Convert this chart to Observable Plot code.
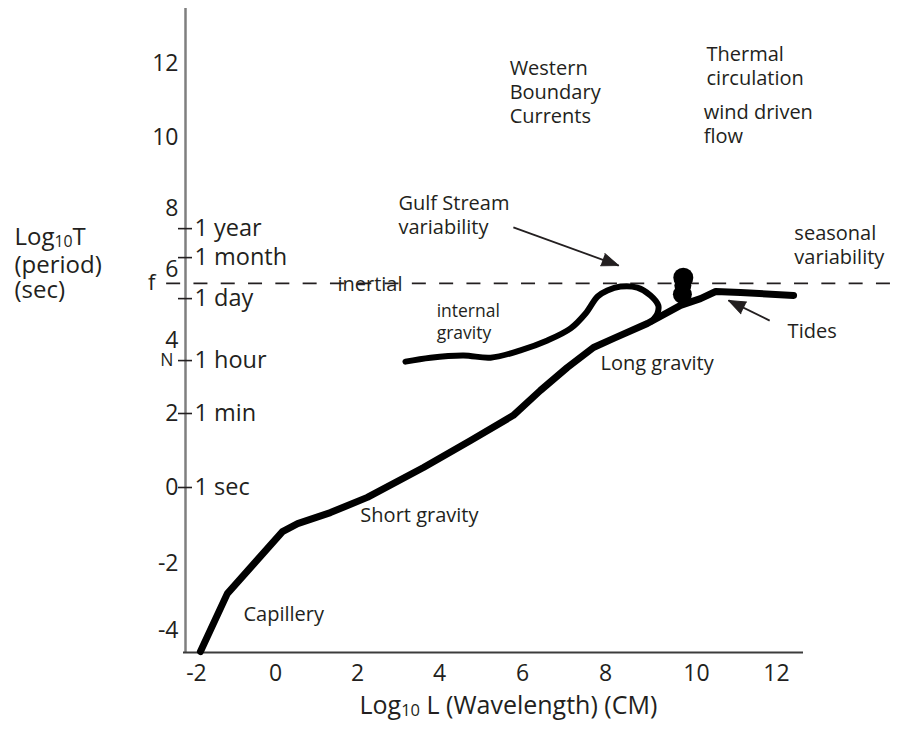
<!DOCTYPE html>
<html>
<head>
<meta charset="utf-8">
<script src="https://cdn.jsdelivr.net/npm/d3@7"></script>
<script src="https://cdn.jsdelivr.net/npm/@observablehq/plot@0.6"></script>
<style>
html, body { margin: 0; padding: 0; background: #fff; }
</style>
</head>
<body>
<div id="chart"></div>
<script>
// ---------------- data (x = log10 L in cm, y = log10 T in s) ----------------
const xTicks = [-2, 0, 2, 4, 6, 8, 10, 12];
const yTicks = [-4, -2, 0, 2, 4, 6, 8, 10, 12];

// the hand-drawn axes are not evenly spaced: calibration values and where they sit
const xCalValues = [-2.28, -2, 0, 2, 4, 6, 8, 10, 12, 12.68];
const xCalRange  = [185, 196, 275, 357, 439, 522, 605, 696, 776, 803];
const yCalValues = [-4.66, -4, -2, 0, 2, 4, 6, 8, 10, 12, 13.49];
const yCalRange  = [652, 630, 563, 487, 413, 340, 269, 208, 137, 63, 8];

// main dispersion curve: capillary -> short gravity -> long gravity -> tides
const mainL = [-1.90, -1.22, 0.17, 0.54, 1.34, 2.24, 3.61, 4.75, 5.78, 6.43, 7.08, 7.71, 8.18, 8.92, 9.65, 10.10, 10.48, 11.10, 12.43];
const mainT = [-4.63, -2.90, -1.16, -0.95, -0.66, -0.26, 0.54, 1.27, 1.95, 2.63, 3.26, 3.81, 4.06, 4.48, 4.99, 5.18, 5.38, 5.35, 5.27];

// internal gravity branch with its loop
const internalL = [3.17, 3.78, 4.58, 5.23, 5.95, 6.60, 7.16, 7.52, 7.81, 8.04, 8.33, 8.70, 8.99, 9.16, 9.14, 9.01];
const internalT = [3.42, 3.53, 3.59, 3.53, 3.73, 4.00, 4.34, 4.76, 5.24, 5.41, 5.52, 5.49, 5.27, 4.99, 4.76, 4.54];

// seasonal variability blob
const blobL = [9.71, 9.70, 9.69];
const blobT = [5.77, 5.55, 5.30];
const blobR = [10, 8.5, 9.5];

// period marks on the y axis
const timeLabels = ["1 sec", "1 min", "1 hour", "1 day", "1 month", "1 year"];
const timeT = [0, 2.0, 3.45, 5.18, 6.39, 7.34];

const inertialT = 5.61;   // f (inertial period)
const buoyancyT = 3.45;   // N

// text annotations
const notesText = ["Western\nBoundary\nCurrents", "Thermal\ncirculation", "wind driven\nflow", "Gulf Stream\nvariability", "inertial", "Long gravity", "seasonal\nvariability", "Tides", "Short gravity", "Capillery"];
const notesL = [5.69, 10.25, 10.18, 3.0, 1.51, 7.88, 12.45, 12.28, 2.07, -0.81];
const notesT = [11.24, 11.95, 10.39, 7.82, 5.61, 3.40, 6.84, 4.28, -0.71, -3.49];
const smallNotesText = ["internal\ngravity"];
const smallNotesL = [3.93];
const smallNotesT = [4.54];

// arrows
const arrowFromL = [5.78, 11.83];
const arrowFromT = [7.38, 4.56];
const arrowToL = [8.29, 10.80];
const arrowToT = [6.13, 5.13];

const yTitleLines = ["Log10T", "(period)", "(sec)"];
const yTitleT = [7.05, 6.13, 5.41];
const xTitle = "Log10 L (Wavelength) (CM)";
const xTitleL = 5.66;

// ---------------- build tables ----------------
const mainCurve = mainL.map((L, i) => ({L, T: mainT[i]}));
const internalCurve = internalL.map((L, i) => ({L, T: internalT[i]}));
const blob = blobL.map((L, i) => ({L, T: blobT[i], r: blobR[i]}));
const timeMarks = timeLabels.map((label, i) => ({label, T: timeT[i]}));
const notes = notesText.map((text, i) => ({text, L: notesL[i], T: notesT[i]}));
const smallNotes = smallNotesText.map((text, i) => ({text, L: smallNotesL[i], T: smallNotesT[i]}));
const arrows = arrowFromL.map((L1, i) => ({L1, T1: arrowFromT[i], L2: arrowToL[i], T2: arrowToT[i]}));
const yTitle = yTitleLines.map((text, i) => ({text, T: yTitleT[i]}));

const xMin = xCalValues[0], xMax = xCalValues[xCalValues.length - 1];
const yMin = yCalValues[0], yMax = yCalValues[yCalValues.length - 1];
const ink = "#231f20";

// piecewise calibration of the drawn axes, used as the scales' transform
const calX = d3.scaleLinear().domain(xCalValues).range(xCalRange);
const calY = d3.scaleLinear().domain(yCalValues).range(yCalRange);
const xPix = d3.extent(xCalRange), yPix = d3.extent(yCalRange);
// screen direction of each arrow (degrees clockwise from up)
const arrowAngle = d => Math.atan2(calX(d.L2) - calX(d.L1), -(calY(d.T2) - calY(d.T1))) * 180 / Math.PI;

const svg = Plot.plot({
  width: 904,
  height: 744,
  marginLeft: 185,
  marginRight: 101,
  marginTop: 8,
  marginBottom: 92,
  style: {fontFamily: "'Open Sans', sans-serif", color: ink, background: "#fff"},
  x: {transform: calX, domain: xPix, range: xPix, axis: null},
  y: {transform: calY, domain: yPix, range: yPix, axis: null},
  r: {type: "identity"},
  marks: [
    // axis lines
    Plot.ruleX([xMin], {y1: yMin, y2: yMax, stroke: "#7f7f7f", strokeWidth: 2.5}),
    Plot.ruleY([yMin], {x1: xMin, x2: xMax, insetLeft: -2, stroke: "#3c3c3c", strokeWidth: 2}),
    // inertial period dashed line
    Plot.ruleY([inertialT], {x1: -2.76, x2: 15.2, stroke: ink, strokeWidth: 1.6, strokeDasharray: "14,13.3"}),
    // period ticks
    Plot.ruleY(timeMarks, {y: "T", x1: xMin, x2: xMin, insetLeft: -7, insetRight: -7, stroke: ink, strokeWidth: 1.6}),
    Plot.text(timeMarks, {y: "T", text: "label", frameAnchor: "left", dx: 9, textAnchor: "start", fontSize: 23.5, fill: ink}),
    // numeric tick labels
    Plot.text(xTicks, {x: d => d, text: d => String(d), frameAnchor: "bottom", lineAnchor: "top", dy: 12, fontSize: 23, fill: ink}),
    Plot.text(yTicks, {y: d => d, text: d => String(d), frameAnchor: "left", dx: -7, textAnchor: "end", fontSize: 23, fill: ink}),
    Plot.text([{t: "f", T: inertialT}], {y: "T", text: "t", frameAnchor: "left", dx: -30, textAnchor: "end", fontSize: 22, fill: ink}),
    Plot.text([{t: "N", T: buoyancyT}], {y: "T", text: "t", frameAnchor: "left", dx: -12, textAnchor: "end", fontSize: 17.5, fill: ink}),
    // axis titles
    Plot.text(yTitle, {y: "T", text: "text", frameAnchor: "left", dx: -171, textAnchor: "start", fontSize: 24, fill: ink}),
    Plot.text([{text: xTitle, L: xTitleL}], {x: "L", text: "text", frameAnchor: "bottom", lineAnchor: "middle", dy: 53, fontSize: 25, fill: ink}),
    // curves
    Plot.line(mainCurve, {x: "L", y: "T", stroke: "#000", strokeWidth: 7, strokeLinecap: "round", strokeLinejoin: "round"}),
    Plot.line(internalCurve, {x: "L", y: "T", stroke: "#000", strokeWidth: 6, curve: "catmull-rom", strokeLinecap: "round", strokeLinejoin: "round"}),
    Plot.dot(blob, {x: "L", y: "T", r: "r", fill: "#000", stroke: null}),
    // arrows: shaft plus filled head
    Plot.link(arrows, {x1: "L1", y1: "T1", x2: "L2", y2: "T2", stroke: ink, strokeWidth: 1.8}),
    Plot.vector(arrows, {x: "L2", y: "T2", rotate: arrowAngle, length: 17, anchor: "end", shape: "spike", r: 6.5, fill: ink, stroke: ink, strokeWidth: 1}),
    // annotations
    Plot.text(notes, {x: "L", y: "T", text: "text", textAnchor: "start", fontSize: 20, lineHeight: 1.2, fill: ink}),
    Plot.text(smallNotes, {x: "L", y: "T", text: "text", textAnchor: "start", fontSize: 17.5, lineHeight: 1.26, fill: ink})
  ]
});

// subscript 10 in "Log10"
d3.select(svg).selectAll("text").each(function() {
  const t = this.textContent;
  if (this.childElementCount === 0 && t.startsWith("Log10")) {
    const rest = t.slice(5);
    const sel = d3.select(this);
    sel.text(null);
    sel.append("tspan").text("Log");
    sel.append("tspan").attr("font-size", "0.66em").attr("dy", 2).text("10");
    sel.append("tspan").attr("dy", -2).text(rest);
  }
});

document.getElementById("chart").appendChild(svg);
</script>
</body>
</html>
